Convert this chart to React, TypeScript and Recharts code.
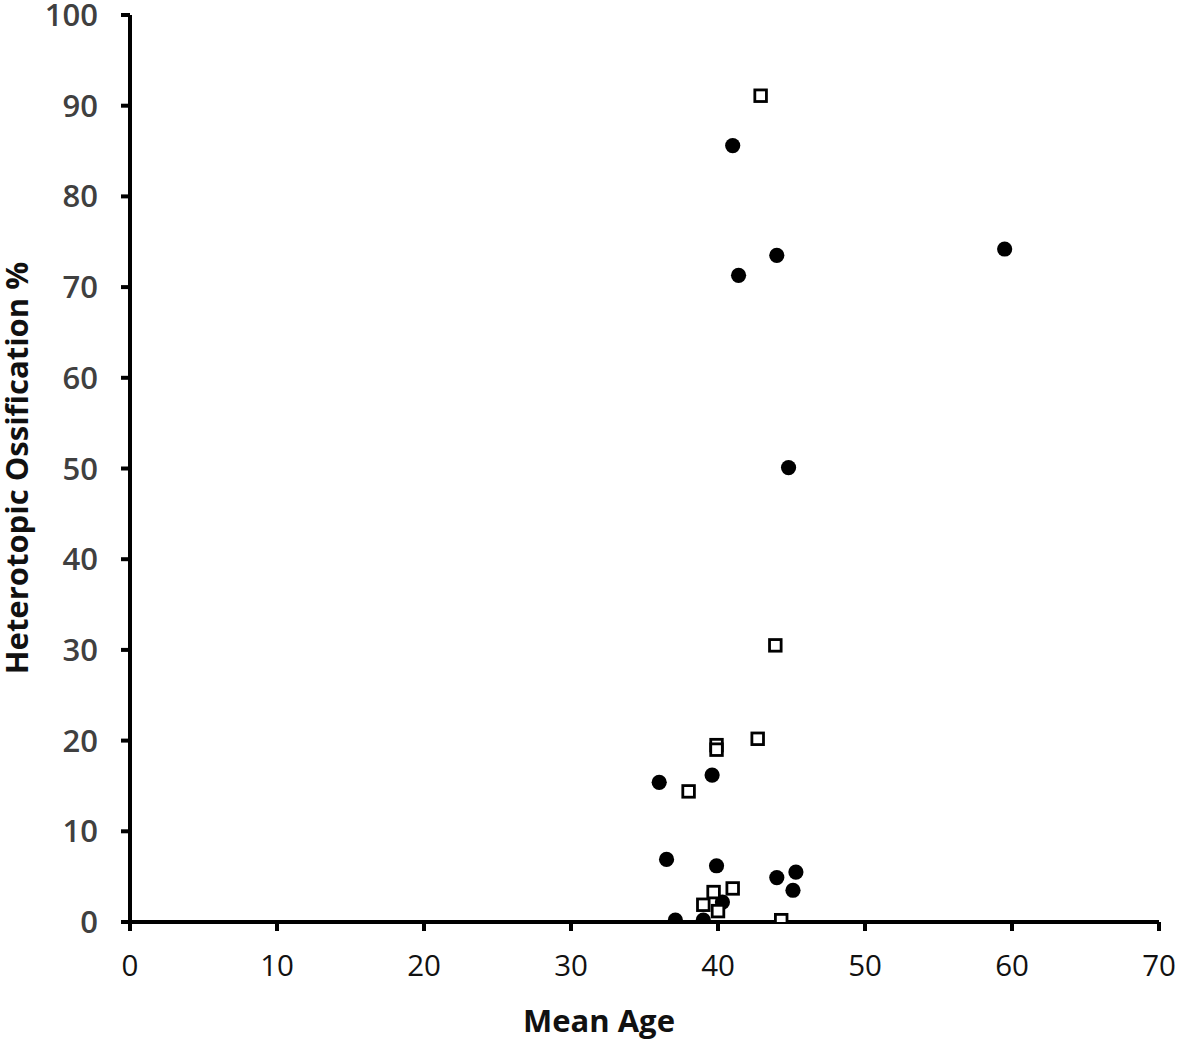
import React from 'react';
import { ScatterChart, Scatter, XAxis, YAxis, Label } from 'recharts';

const circleX = [41.0, 44.0, 41.4, 59.5, 44.8, 36.0, 39.6, 36.5, 39.9, 44.0, 45.3, 45.1, 37.1, 39.0, 40.3];
const circleY = [85.6, 73.5, 71.3, 74.2, 50.1, 15.4, 16.2, 6.9, 6.2, 4.9, 5.5, 3.5, 0.2, 0.2, 2.2];
const squareX = [42.9, 43.9, 42.7, 39.9, 39.9, 38.0, 41.0, 39.7, 39.0, 40.0, 44.3];
const squareY = [91.1, 30.5, 20.2, 19.5, 19.0, 14.4, 3.7, 3.3, 1.9, 1.2, 0.2];
const xTicks = [0, 10, 20, 30, 40, 50, 60, 70];
const yTicks = [0, 10, 20, 30, 40, 50, 60, 70, 80, 90, 100];

const circles = circleX.map((x, i) => ({ x, y: circleY[i] }));
const squares = squareX.map((x, i) => ({ x, y: squareY[i] }));

const FONT = '"Open Sans", "DejaVu Sans", sans-serif';

const CircleShape = (props: any) => {
  const { cx, cy } = props;
  return <circle cx={cx} cy={cy} r={7.6} fill="#000" />;
};

const SquareShape = (props: any) => {
  const { cx, cy } = props;
  return <rect x={cx - 5.8} y={cy - 5.8} width={11.6} height={11.6} fill="#fff" stroke="#000" strokeWidth={2.8} />;
};

export default function App() {
  return (
    <div style={{ position: 'absolute', left: 0, top: 0, width: 1180, height: 1040, background: '#fff' }}>
      <ScatterChart width={1180} height={1040} margin={{ top: 15, right: 21, bottom: 0, left: 0 }}>
        <XAxis
          type="number"
          dataKey="x"
          domain={[0, 70]}
          ticks={xTicks}
          interval={0}
          allowDataOverflow
          height={118}
          axisLine={{ stroke: '#000', strokeWidth: 4 }}
          tickLine={{ stroke: '#000', strokeWidth: 4 }}
          tickSize={9}
          tickMargin={24}
          tick={{ fontFamily: FONT, fontSize: 29.5, fill: '#111', fontWeight: 400 }}
        >
          <Label
            content={() => (
              <text x={599} y={1032} textAnchor="middle" fontFamily={FONT} fontSize={31} fontWeight={700} fill="#111">
                Mean Age
              </text>
            )}
          />
        </XAxis>
        <YAxis
          type="number"
          dataKey="y"
          domain={[0, 100]}
          ticks={yTicks}
          interval={0}
          allowDataOverflow
          width={130}
          axisLine={{ stroke: '#000', strokeWidth: 4 }}
          tickLine={{ stroke: '#000', strokeWidth: 4 }}
          tickSize={9}
          tickMargin={23}
          tick={{ fontFamily: FONT, fontSize: 31, fill: '#404040', fontWeight: 600 }}
        >
          <Label
            content={() => (
              <text
                x={28}
                y={468}
                transform="rotate(-90 28 468)"
                textAnchor="middle"
                fontFamily={FONT}
                fontSize={31}
                fontWeight={700}
                fill="#111"
              >
                Heterotopic Ossification %
              </text>
            )}
          />
        </YAxis>
        <Scatter data={circles} shape={CircleShape} isAnimationActive={false} />
        <Scatter data={squares} shape={SquareShape} isAnimationActive={false} />
      </ScatterChart>
    </div>
  );
}
